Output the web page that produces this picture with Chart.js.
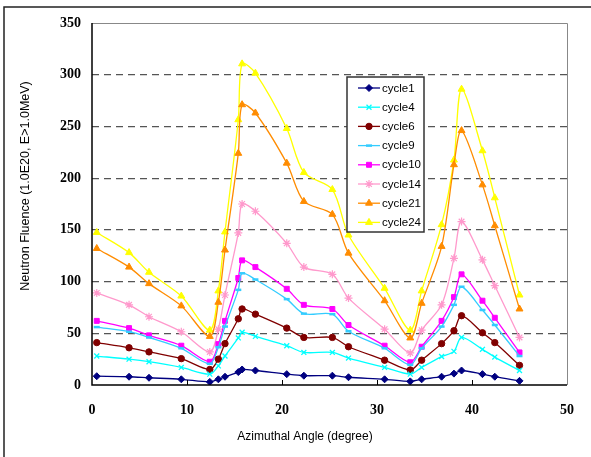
<!DOCTYPE html>
<html>
<head>
<meta charset="utf-8">
<script src="https://cdn.jsdelivr.net/npm/chart.js@4.4.0/dist/chart.umd.min.js"></script>
<style>
    html, body { margin: 0; padding: 0; background: #fff; }
</style>
</head>
<body>
<canvas id="fluenceChart" width="591" height="457"></canvas>
<script>
// Azimuthal angle of each calculation point (degree)
const angles = [0.5, 3.9, 6.0, 9.4, 12.4, 13.3, 14.0, 15.4, 15.8, 17.2, 20.5, 22.3,
                25.3, 27.0, 30.8, 33.5, 34.7, 36.8, 38.1, 38.9, 41.1, 42.4, 45.0];

// Neutron fluence per cycle (1.0E20, E>1.0MeV)
const cycle1  = [8.5, 8, 7, 5.5, 3, 5.5, 8, 12.5, 15, 14, 10.5, 9, 9, 7.5, 5.5, 3.5, 5.5, 8, 11, 14, 10.5, 8, 4];
const cycle4  = [28, 25, 22.5, 17, 10.5, 18.5, 28, 45.5, 51, 47, 38, 31.5, 31.5, 26, 17, 10.5, 17, 27.5, 32.5, 46, 34.5, 27, 14];
const cycle6  = [41, 36, 32, 25.5, 15, 25, 40, 64, 73.5, 68.5, 55, 46, 46, 37, 24, 14.5, 24, 40, 52.5, 67, 50.5, 41, 19];
const cycle9  = [56, 51.5, 46, 35.5, 20.5, 36.5, 56.5, 92, 108, 102, 83, 69, 68.5, 52, 35.5, 19.5, 35.5, 56.5, 77.5, 95, 72.5, 58, 28];
const cycle10 = [62, 55, 48, 38, 22.5, 39.5, 62, 103.5, 120.5, 114, 93, 77.5, 73.5, 58, 38, 22, 37, 62, 85, 107, 81.5, 65, 31.5];
const cycle14 = [89, 77.5, 66, 51.5, 32, 54, 87, 147, 175, 168, 137, 114, 107, 84, 54, 31, 53, 77.5, 122.5, 158, 121, 96, 46];
const cycle21 = [132, 114, 98, 76.5, 47, 80, 130.5, 224, 271, 263, 214.5, 177.5, 165, 127.5, 81.5, 45.5, 79, 134, 213, 246, 193.5, 154, 73.5];
const cycle24 = [147.5, 128, 109, 86, 53, 91, 148, 256.5, 310.5, 301.5, 248, 205.5, 189, 145, 93.5, 53, 91, 155, 217.5, 286, 226.5, 181, 87];

const seriesLabels = ['cycle1', 'cycle4', 'cycle6', 'cycle9', 'cycle10', 'cycle14', 'cycle21', 'cycle24'];
const seriesValues = [cycle1, cycle4, cycle6, cycle9, cycle10, cycle14, cycle21, cycle24];

const xTicks = [0, 10, 20, 30, 40, 50];
const yTicks = [0, 50, 100, 150, 200, 250, 300, 350];

// Marker styles, one per cycle
const seriesStyles = [
    { color: '#000080', point: 'rectRot',  radius: 3.5, pw: 1 },
    { color: '#00FFFF', point: 'crossRot', radius: 3.5, pw: 1.3 },
    { color: '#800000', point: 'circle',   radius: 3.2, pw: 1 },
    { color: '#33CCFF', point: 'line',     radius: 3,   pw: 2.5 },
    { color: '#FF00FF', point: 'rect',     radius: 3.5, pw: 1 },
    { color: '#FF99CC', point: 'star',     radius: 4,   pw: 1.2 },
    { color: '#FF8C00', point: 'triangle', radius: 4,   pw: 1 },
    { color: '#FFFF00', point: 'triangle', radius: 4,   pw: 1 }
];

const datasets = seriesLabels.map((label, i) => ({
    label: label,
    data: angles.map((a, j) => ({ x: a, y: seriesValues[i][j] })),
    borderColor: seriesStyles[i].color,
    backgroundColor: seriesStyles[i].color,
    borderWidth: 1.3,
    pointStyle: seriesStyles[i].point,
    pointRadius: seriesStyles[i].radius,
    pointBorderWidth: seriesStyles[i].pw,
    tension: 0.3,
    fill: false
}));

// Frame, inner ticks, legend box and axis titles
const decorations = {
    id: 'decorations',
    afterDraw(chart) {
        const ctx = chart.ctx;
        const area = chart.chartArea;
        const xs = chart.scales.x;

        ctx.save();

        // outer frame (cut off at right and bottom)
        ctx.strokeStyle = '#222';
        ctx.lineWidth = 1.5;
        ctx.beginPath();
        ctx.moveTo(4, 460);
        ctx.lineTo(4, 7);
        ctx.lineTo(600, 7);
        ctx.stroke();

        // plot frame
        ctx.lineWidth = 1;
        ctx.strokeStyle = '#888';
        ctx.beginPath();
        ctx.moveTo(area.left, area.top + 0.5);
        ctx.lineTo(area.right + 0.5, area.top + 0.5);
        ctx.lineTo(area.right + 0.5, area.bottom);
        ctx.stroke();

        ctx.strokeStyle = '#000';
        ctx.lineWidth = 1.5;
        ctx.beginPath();
        ctx.moveTo(area.left, area.top);
        ctx.lineTo(area.left, area.bottom);
        ctx.lineTo(area.right, area.bottom);
        ctx.stroke();

        // inward ticks on x axis
        ctx.lineWidth = 1;
        ctx.beginPath();
        xTicks.slice(1, -1).forEach(v => {
            const px = Math.round(xs.getPixelForValue(v)) + 0.5;
            ctx.moveTo(px, area.bottom);
            ctx.lineTo(px, area.bottom - 5);
        });
        ctx.stroke();

        // legend
        const lx = 347, ly = 77, lw = 77, lh = 155;
        ctx.fillStyle = '#fff';
        ctx.fillRect(lx, ly, lw, lh);
        ctx.strokeStyle = '#333';
        ctx.lineWidth = 1.5;
        ctx.strokeRect(lx, ly, lw, lh);

        ctx.font = '11.5px "Liberation Sans", Arial, sans-serif';
        ctx.textBaseline = 'middle';
        ctx.textAlign = 'left';
        chart.data.datasets.forEach((ds, i) => {
            const y = ly + 11 + i * 19.2;
            ctx.strokeStyle = ds.borderColor;
            ctx.fillStyle = ds.backgroundColor;
            ctx.lineWidth = 1.3;
            ctx.beginPath();
            ctx.moveTo(lx + 11, y);
            ctx.lineTo(lx + 33, y);
            ctx.stroke();
            ctx.lineWidth = ds.pointBorderWidth;
            Chart.helpers.drawPoint(ctx, {
                pointStyle: ds.pointStyle,
                radius: ds.pointRadius,
                borderWidth: ds.pointBorderWidth,
                rotation: 0
            }, lx + 22, y);
            ctx.fillStyle = '#000';
            ctx.fillText(ds.label, lx + 35, y + 0.5);
        });

        // axis titles
        ctx.fillStyle = '#000';
        ctx.textAlign = 'center';
        ctx.font = '12px "Liberation Sans", Arial, sans-serif';
        ctx.fillText('Azimuthal Angle (degree)', 305, 437);
        ctx.font = '12.5px "Liberation Sans", Arial, sans-serif';
        ctx.translate(26, 186);
        ctx.rotate(-Math.PI / 2);
        ctx.fillText('Neutron Fluence (1.0E20, E>1.0MeV)', 0, 0);

        ctx.restore();
    }
};

const ctx = document.getElementById('fluenceChart').getContext('2d');
new Chart(ctx, {
    type: 'line',
    data: { datasets: datasets },
    options: {
        responsive: false,
        animation: false,
        layout: { padding: { left: 0, top: 23, right: 23, bottom: 0 } },
        plugins: {
            legend: { display: false },
            tooltip: { enabled: false }
        },
        scales: {
            x: {
                type: 'linear',
                min: xTicks[0],
                max: xTicks[xTicks.length - 1],
                afterFit(scale) { scale.height = 72; },
                afterBuildTicks(scale) { scale.ticks = xTicks.map(v => ({ value: v })); },
                grid: { display: false, drawTicks: false },
                border: { display: false },
                ticks: {
                    color: '#000',
                    padding: 17,
                    maxRotation: 0,
                    font: { family: '"Liberation Serif", "Times New Roman", serif', size: 14, weight: 'bold' }
                }
            },
            y: {
                min: yTicks[0],
                max: yTicks[yTicks.length - 1],
                afterFit(scale) { scale.width = 92; },
                afterBuildTicks(scale) { scale.ticks = yTicks.map(v => ({ value: v })); },
                grid: {
                    drawTicks: false,
                    lineWidth: 1.2,
                    color: (c) => (c.tick && (c.tick.value === 0 || c.tick.value === 350)) ? 'rgba(0,0,0,0)' : '#555'
                },
                border: { display: false, dash: [7, 5] },
                ticks: {
                    color: '#000',
                    padding: 11,
                    font: { family: '"Liberation Serif", "Times New Roman", serif', size: 14, weight: 'bold' }
                }
            }
        }
    },
    plugins: [decorations]
});
</script>
</body>
</html>
